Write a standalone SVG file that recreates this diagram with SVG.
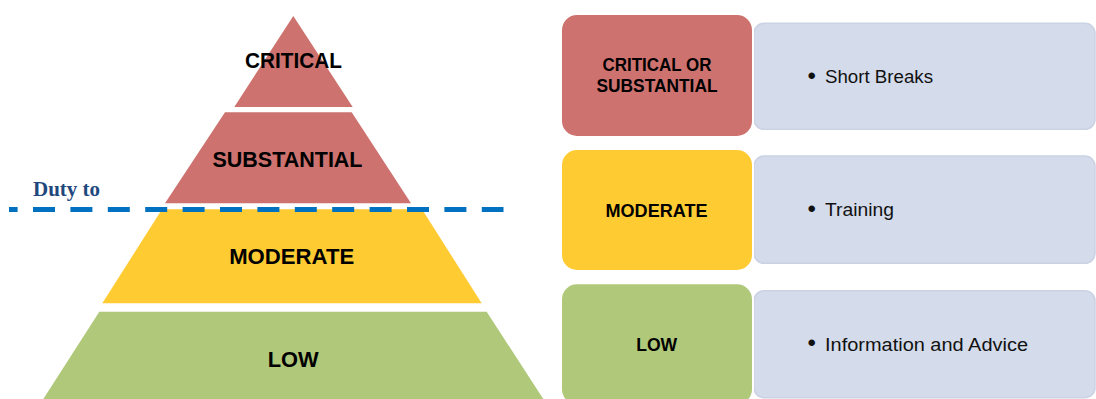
<svg xmlns="http://www.w3.org/2000/svg" width="1096" height="399" viewBox="0 0 1096 399">
<style>
.lvl{font-family:"Liberation Sans",Arial,sans-serif;font-weight:bold;fill:#000;text-anchor:middle}
.big{font-size:22.5px}
.box{font-size:18px}
.item{font-family:"Liberation Sans",Arial,sans-serif;font-size:18.7px;fill:#111}
.bul{font-size:24px}
.red{fill:#CD726E}
.yel{fill:#FFCB33}
.grn{fill:#B0C87A}
.panel{fill:#D4DBEA;stroke:#CAD2E4;stroke-width:1.5}
.card{stroke:#fff;stroke-width:2}
</style>
<rect width="1096" height="399" fill="#fff"/>
<g id="pyr-critical">
<polygon class="red" points="293.3,16 352.7,107 234.3,107"/>
<text class="lvl big" x="293.5" y="68.3" textLength="97" lengthAdjust="spacingAndGlyphs">CRITICAL</text>
</g>
<g id="pyr-substantial">
<polygon class="red" points="225,112.3 351.7,112.3 411,203.3 165,203.3"/>
<text class="lvl big" x="287.5" y="166.7" textLength="150" lengthAdjust="spacingAndGlyphs">SUBSTANTIAL</text>
</g>
<g id="pyr-moderate">
<polygon class="yel" points="162,209.3 422,209.3 481.7,303.3 102.3,303.3"/>
<text class="lvl big" x="291.7" y="264" textLength="125" lengthAdjust="spacingAndGlyphs">MODERATE</text>
</g>
<g id="pyr-low">
<polygon class="grn" points="99.3,311.7 486.7,311.7 543.3,399 43.3,399"/>
<text class="lvl big" x="293.2" y="366.7" textLength="51" lengthAdjust="spacingAndGlyphs">LOW</text>
</g>
<g id="duty-line">
<text x="33" y="196" font-family="'Liberation Serif','Times New Roman',serif" font-weight="bold" font-size="21" fill="#1F497D">Duty to</text>
<line x1="9" y1="209.5" x2="503.5" y2="209.5" stroke="#0070C0" stroke-width="5" stroke-dasharray="22 15.4" stroke-dashoffset="13.4"/>
</g>
<g id="row-critical">
<rect class="panel" x="754" y="23.3" width="341" height="106" rx="10"/>
<rect class="red card" x="561" y="14" width="192" height="123" rx="16"/>
<text class="lvl box" x="657" y="70.7" textLength="109" lengthAdjust="spacingAndGlyphs">CRITICAL OR</text>
<text class="lvl box" x="657" y="92.3" textLength="121" lengthAdjust="spacingAndGlyphs">SUBSTANTIAL</text>
<text class="item" y="83.5"><tspan class="bul" x="807.5">•</tspan><tspan x="825" y="82.7" textLength="108" lengthAdjust="spacingAndGlyphs">Short Breaks</tspan></text>
</g>
<g id="row-moderate">
<rect class="panel" x="754" y="156" width="341" height="107.3" rx="10"/>
<rect class="yel card" x="561" y="149" width="192" height="122" rx="16"/>
<text class="lvl box" x="656.5" y="216.7" textLength="102" lengthAdjust="spacingAndGlyphs">MODERATE</text>
<text class="item" y="216.8"><tspan class="bul" x="807.5">•</tspan><tspan x="825" y="216" textLength="69" lengthAdjust="spacingAndGlyphs">Training</tspan></text>
</g>
<g id="row-low">
<rect class="panel" x="754" y="290.7" width="341" height="107" rx="10"/>
<rect class="grn card" x="561" y="283.3" width="192" height="122" rx="16"/>
<text class="lvl box" x="656.7" y="350.7" textLength="41" lengthAdjust="spacingAndGlyphs">LOW</text>
<text class="item" y="351.4"><tspan class="bul" x="807.5">•</tspan><tspan x="825" y="350.6" textLength="203" lengthAdjust="spacingAndGlyphs">Information and Advice</tspan></text>
</g>
</svg>
